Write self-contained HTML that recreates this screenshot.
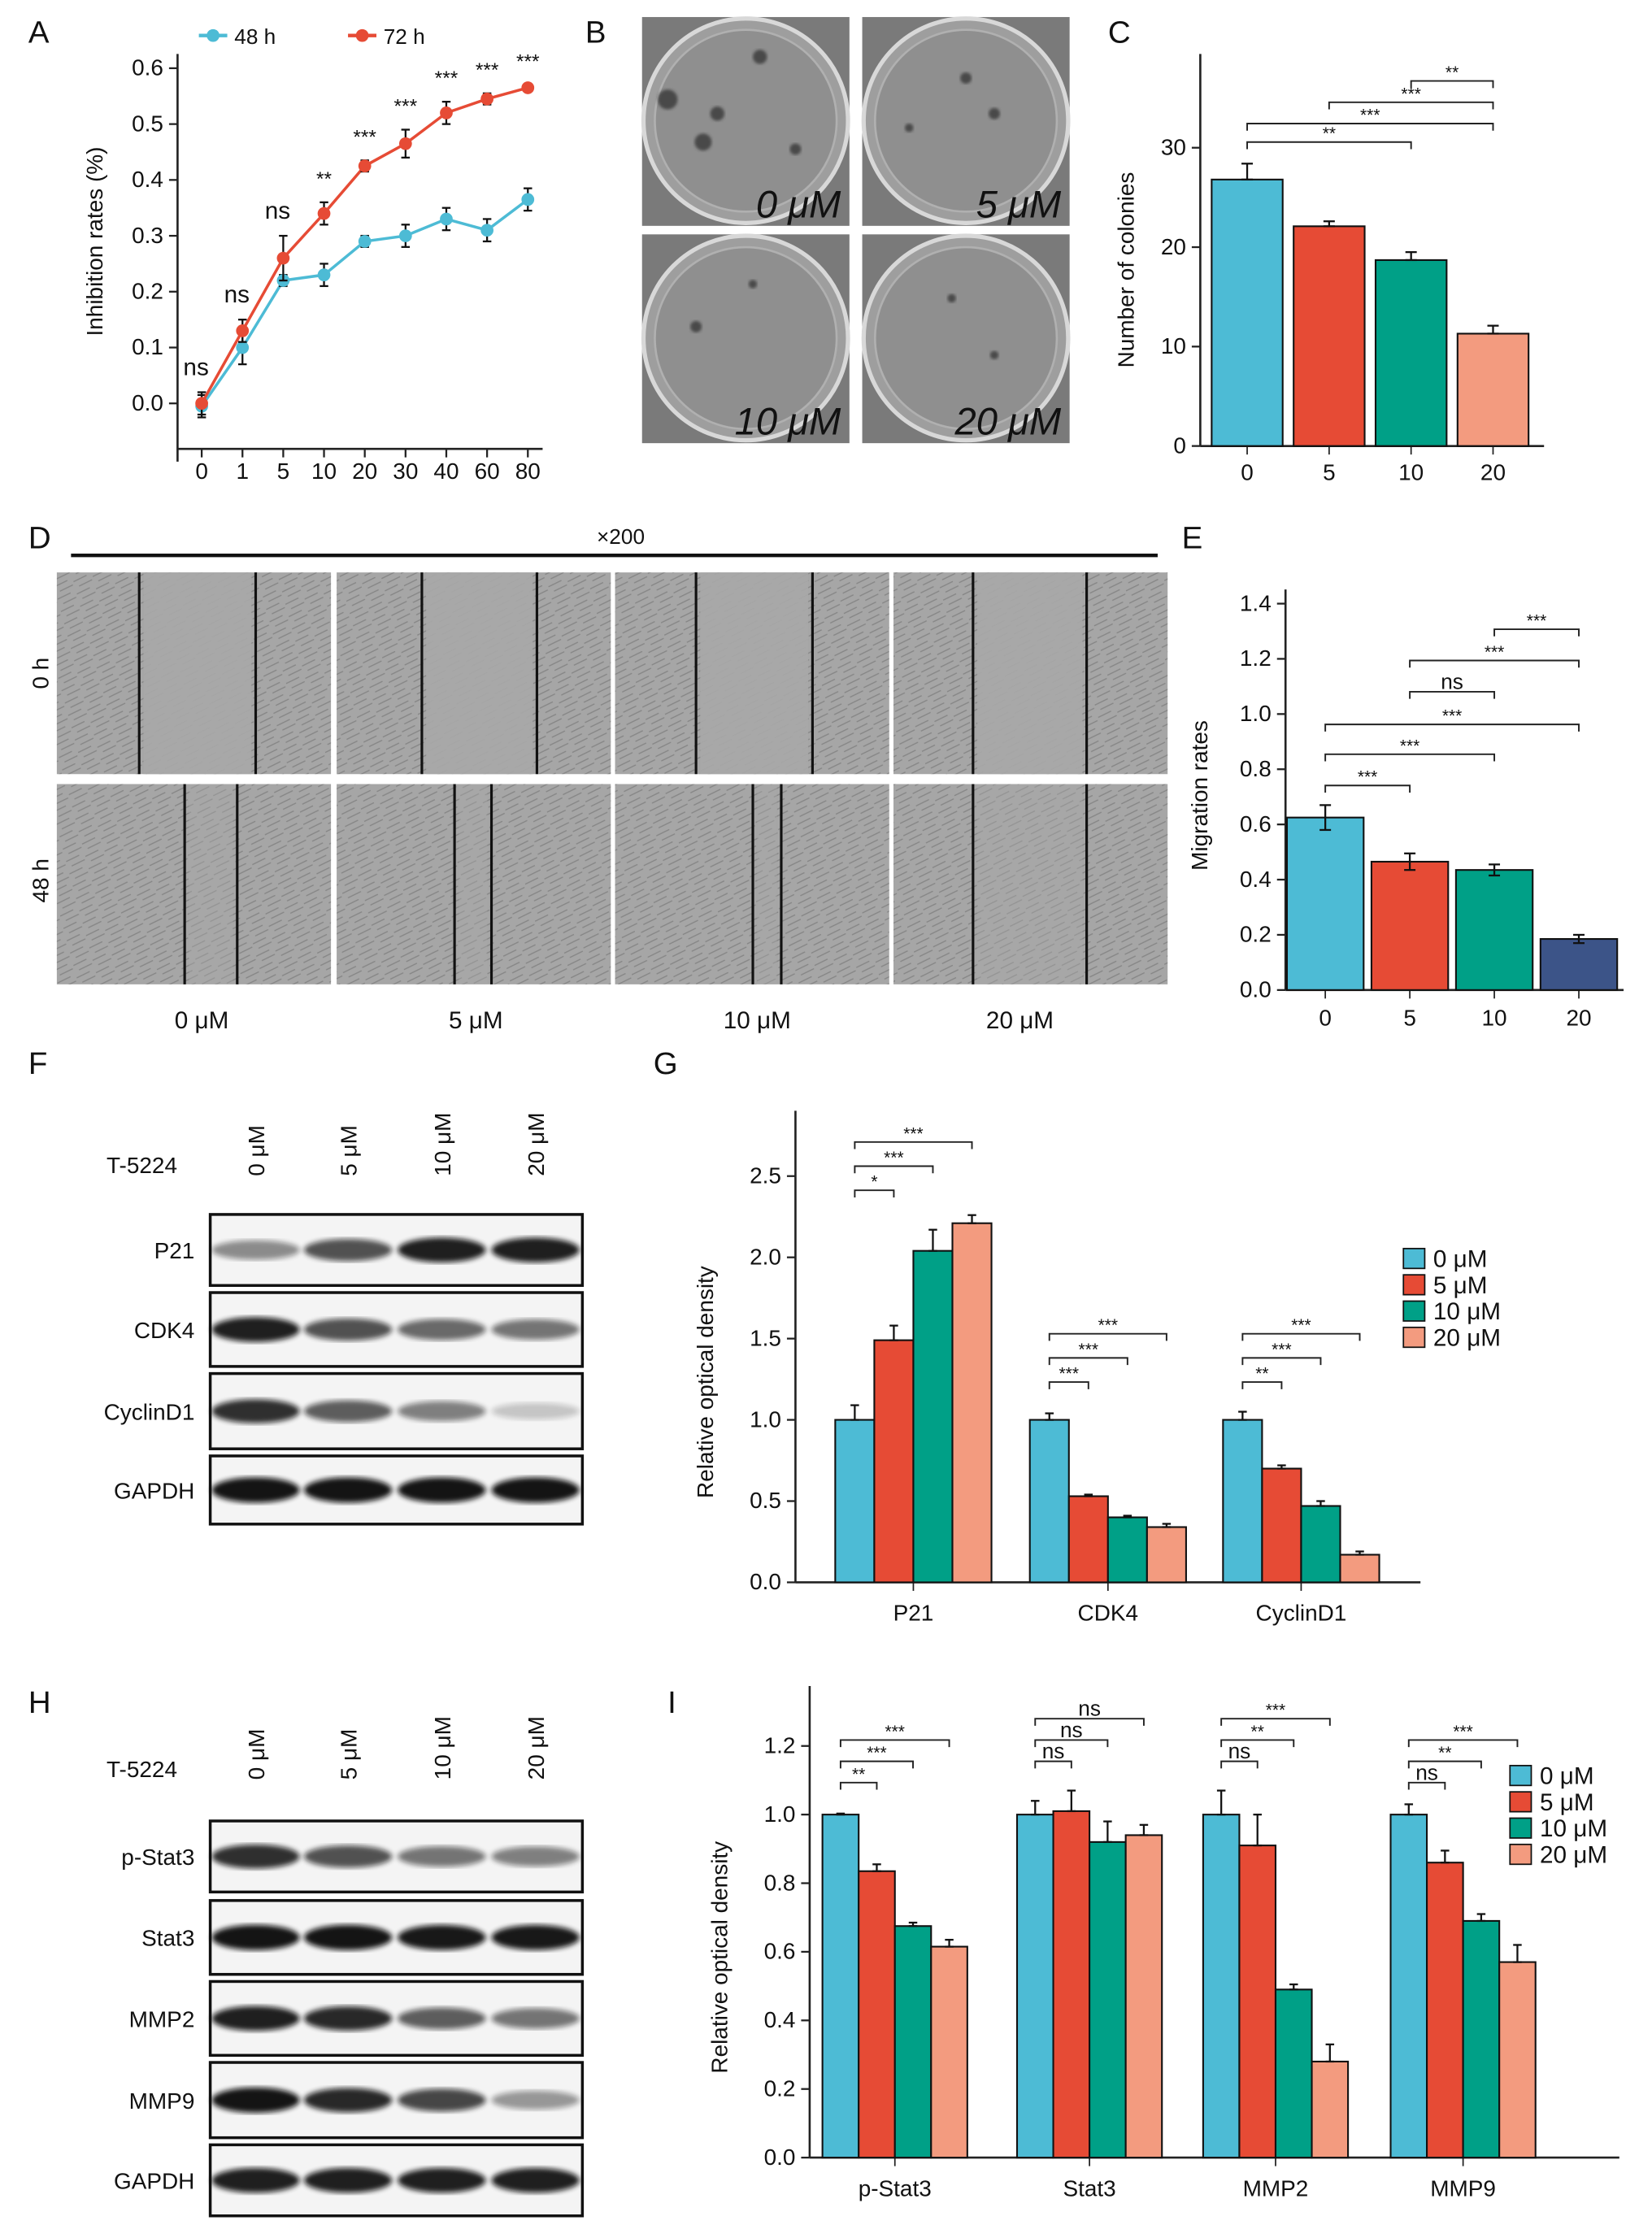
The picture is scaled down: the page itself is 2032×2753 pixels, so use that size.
<!DOCTYPE html>
<html><head><meta charset="utf-8"><style>
html,body{margin:0;padding:0;background:#fff}
svg{display:block}
text{font-family:"Liberation Sans",Arial,sans-serif;fill:#111}
</style></head><body>
<svg id="fig" xmlns="http://www.w3.org/2000/svg" width="2032" height="2753" viewBox="0 0 1163 1575.6" preserveAspectRatio="none">
<defs>
<filter id="blur2"><feGaussianBlur stdDeviation="1.8"/></filter>
<filter id="blur1"><feGaussianBlur stdDeviation="1"/></filter>
<pattern id="cells" width="14" height="9" patternUnits="userSpaceOnUse" patternTransform="rotate(-15)">
<path d="M0 4 L10 2 M3 8 L13 6" stroke="#666" stroke-width="0.8" opacity="0.5"/>
</pattern>
</defs>
</svg>
<script>
const NS='http://www.w3.org/2000/svg';
const svg=document.getElementById('fig');
function el(tag,attrs,parent,txt){const e=document.createElementNS(NS,tag);for(const k in attrs)e.setAttribute(k,attrs[k]);if(txt!==undefined)e.textContent=txt;(parent||svg).appendChild(e);return e;}
const BLUE='#4DBBD5',RED='#E64B35',GREEN='#00A087',SALMON='#F39B7F',NAVY='#3C5488';

// ===== Panel A data =====
const aCats=['0','1','5','10','20','30','40','60','80'];
const a48=[-0.005,0.10,0.22,0.23,0.29,0.30,0.33,0.31,0.365];
const a48err=[0.02,0.03,0.01,0.02,0.01,0.02,0.02,0.02,0.02];
const a72=[0.0,0.13,0.26,0.34,0.425,0.465,0.52,0.545,0.565];
const a72err=[0.02,0.02,0.04,0.02,0.01,0.025,0.02,0.01,0.005];
const aSig=['ns','ns','ns','**','***','***','***','***','***'];
const aTicks=[0,0.1,0.2,0.3,0.4,0.5,0.6];

// ===== Panel C data =====
const cCats=['0','5','10','20'];
const cVals=[26.8,22.1,18.7,11.3];
const cErr=[1.6,0.5,0.8,0.8];
const cTicks=[0,10,20,30];
const cSig=[[0,2,'**'],[0,3,'***'],[1,3,'***'],[2,3,'**']];

// ===== Panel E data =====
const eCats=['0','5','10','20'];
const eVals=[0.625,0.465,0.435,0.185];
const eErr=[0.045,0.03,0.02,0.015];
const eTicks=[0,0.2,0.4,0.6,0.8,1.0,1.2,1.4];
const eSig=[[0,1,'***'],[0,2,'***'],[0,3,'***'],[1,2,'ns'],[1,3,'***'],[2,3,'***']];

// ===== Panel G data =====
const gGroups=['P21','CDK4','CyclinD1'];
const gSeries=['0 μM','5 μM','10 μM','20 μM'];
const gVals=[[1.0,1.49,2.04,2.21],[1.0,0.53,0.40,0.34],[1.0,0.70,0.47,0.17]];
const gErr=[[0.09,0.09,0.13,0.05],[0.04,0.01,0.01,0.02],[0.05,0.02,0.03,0.02]];
const gTicks=[0,0.5,1.0,1.5,2.0,2.5];
const gSig=[['*','***','***'],['***','***','***'],['**','***','***']];

// ===== Panel I data =====
const iGroups=['p-Stat3','Stat3','MMP2','MMP9'];
const iVals=[[1.0,0.835,0.675,0.615],[1.0,1.01,0.92,0.94],[1.0,0.91,0.49,0.28],[1.0,0.86,0.69,0.57]];
const iErr=[[0.003,0.02,0.01,0.02],[0.04,0.06,0.06,0.03],[0.07,0.09,0.015,0.05],[0.03,0.035,0.02,0.05]];
const iTicks=[0,0.2,0.4,0.6,0.8,1.0,1.2];
const iSig=[['**','***','***'],['ns','ns','ns'],['ns','**','***'],['ns','**','***']];

// ===== Blot intensities (0..1 darkness) =====
const fRows=['P21','CDK4','CyclinD1','GAPDH'];
const fInt=[[0.45,0.7,0.92,0.92],[0.92,0.7,0.6,0.55],[0.85,0.65,0.5,0.2],[0.97,0.97,0.97,0.97]];
const hRows=['p-Stat3','Stat3','MMP2','MMP9','GAPDH'];
const hInt=[[0.85,0.7,0.55,0.5],[0.97,0.97,0.95,0.95],[0.92,0.88,0.65,0.55],[0.97,0.88,0.75,0.4],[0.92,0.92,0.92,0.92]];
const doses=['0 μM','5 μM','10 μM','20 μM'];

function label(x,y,t){const e=el('text',{x:x,y:y,'font-size':22},svg,t);}
function yAxis(x,y0,y1,ticks,scale,fs,fmt,name){
  const g=el('g',{});
  el('line',{x1:x,y1:y0,x2:x,y2:y1,stroke:'#222','stroke-width':1.5},g);
  ticks.forEach(t=>{const y=scale(t);el('line',{x1:x-6,y1:y,x2:x,y2:y,stroke:'#222','stroke-width':1.3},g);
    el('text',{x:x-10,y:y+5,'font-size':fs,'text-anchor':'end'},g,fmt(t));});
  return g;}
function yTitle(x,y,t,fs,name){const e=el('text',{x:x,y:y,'font-size':fs,'text-anchor':'middle',transform:`rotate(-90 ${x} ${y})`},svg,t);}
function errbar(g,x,yTop,yBot,w){el('line',{x1:x,y1:yTop,x2:x,y2:yBot,stroke:'#111','stroke-width':1.3},g);
  el('line',{x1:x-w,y1:yTop,x2:x+w,y2:yTop,stroke:'#111','stroke-width':1.3},g);
  el('line',{x1:x-w,y1:yBot,x2:x+w,y2:yBot,stroke:'#111','stroke-width':1.3},g);}
function bracket(g,x1,x2,y,t,fs){el('path',{d:`M${x1} ${y+5}V${y}H${x2}V${y+5}`,fill:'none',stroke:'#222','stroke-width':1.1},g);
  el('text',{x:(x1+x2)/2,y:y-2,'font-size':fs,'text-anchor':'middle'},g,t);}

// ================= Panel A =================
label(20,30,'A');
(function(){
  const y=v=>284-v*393.3, x=i=>142+i*28.7;
  yAxis(125,38,325,aTicks,y,16,t=>t.toFixed(1),'panel-a-y-axis');
  const xg=el('g',{});
  el('line',{x1:125,y1:316,x2:382,y2:316,stroke:'#222','stroke-width':1.5},xg);
  aCats.forEach((c,i)=>{el('line',{x1:x(i),y1:316,x2:x(i),y2:322,stroke:'#222','stroke-width':1.3},xg);el('text',{x:x(i),y:337,'font-size':16,'text-anchor':'middle'},xg,c);});
  yTitle(72,170,'Inhibition rates (%)',16,'panel-a-y-title');
  [[a48,a48err,BLUE,'48h'],[a72,a72err,RED,'72h']].forEach(([v,er,col,nm])=>{
    const g=el('g',{});
    el('polyline',{points:v.map((d,i)=>x(i)+','+y(d)).join(' '),fill:'none',stroke:col,'stroke-width':2},g);
    v.forEach((d,i)=>{errbar(g,x(i),y(d+er[i]),y(d-er[i]),3);el('circle',{cx:x(i),cy:y(d),r:4.5,fill:col},g);});
  });
  const sg=el('g',{});
  aSig.forEach((s,i)=>{const base=Math.max(a72[i]+a72err[i],a48[i]+a48err[i]);el('text',{x:x(i)-(s==='ns'?4:0),y:y(base)-12,'font-size':s==='ns'?17:14,'text-anchor':'middle'},sg,s);});
  const lg=el('g',{});
  [[140,BLUE,'48 h'],[245,RED,'72 h']].forEach(([lx,c,t])=>{el('line',{x1:lx,y1:25,x2:lx+20,y2:25,stroke:c,'stroke-width':2.5},lg);el('circle',{cx:lx+10,cy:25,r:4.5,fill:c},lg);el('text',{x:lx+25,y:31,'font-size':15},lg,t);});
})();

// ================= Panel B =================
label(412,30,'B');
(function(){
  const g=el('g',{});
  const boxes=[[452,12,'0 μM'],[607,12,'5 μM'],[452,165,'10 μM'],[607,165,'20 μM']];
  const spots=[[[470,70,7],[505,80,5],[535,40,5],[495,100,6],[560,105,4]],[[680,55,4],[640,90,3],[700,80,4]],[[490,230,4],[530,200,3]],[[670,210,3],[700,250,3]]];
  boxes.forEach(([bx,by,t],k)=>{
    const p=el('g',{},g);
    el('rect',{x:bx,y:by,width:146,height:147,fill:'#7a7a7a'},p);
    el('circle',{cx:bx+73,cy:by+73,r:72,fill:'#9e9e9e',stroke:'#d8d8d8','stroke-width':3},p);
    el('circle',{cx:bx+73,cy:by+73,r:64,fill:'#8f8f8f',stroke:'#b0b0b0','stroke-width':1.5},p);
    spots[k].forEach(([sx,sy,r])=>el('circle',{cx:sx,cy:sy,r:r,fill:'#333',opacity:0.75,filter:'url(#blur1)'},p));
    el('text',{x:bx+140,y:by+141,'font-size':27,'text-anchor':'end',fill:'#111','font-style':'italic'},p,t);
  });
})();

// ================= Panel C =================
label(780,30,'C');
(function(){
  const y=v=>314-v*7, x=i=>878+i*57.7, cols=[BLUE,RED,GREEN,SALMON];
  yAxis(845,38,314,cTicks,y,16,t=>String(t),'panel-c-y-axis');
  const xg=el('g',{});
  el('line',{x1:845,y1:314,x2:1087,y2:314,stroke:'#222','stroke-width':1.5},xg);
  cCats.forEach((c,i)=>{el('line',{x1:x(i),y1:314,x2:x(i),y2:320,stroke:'#222'},xg);el('text',{x:x(i),y:338,'font-size':16,'text-anchor':'middle'},xg,c);});
  yTitle(798,190,'Number of colonies',16,'panel-c-y-title');
  cVals.forEach((v,i)=>{const g=el('g',{});
    el('rect',{x:x(i)-25,y:y(v),width:50,height:314-y(v),fill:cols[i],stroke:'#111','stroke-width':1.2},g);errbar(g,x(i),y(v+cErr[i]),y(v),4);});
  const sg=el('g',{});
  const ys=[100,87,72,57];cSig.forEach(([a,b,t],k)=>bracket(sg,x(a),x(b),ys[k],t,12));
})();

// ================= Panel D =================
label(20,386,'D');
(function(){
  const g=el('g',{});
  el('line',{x1:50,y1:391,x2:815,y2:391,stroke:'#111','stroke-width':2.5},g);
  el('text',{x:437,y:383,'font-size':15,'text-anchor':'middle'},g,'×200');
  const cols=[40,237,433,629],rows=[[403,142],[552,141]];
  const lines0=[[98,180],[297,378],[490,572],[685,765]],lines48=[[130,167],[320,346],[530,550],[685,765]];
  rows.forEach(([ry,rh],r)=>cols.forEach((cx,c)=>{
    const p=el('g',{},g);
    el('rect',{x:cx,y:ry,width:193,height:rh,fill:'#a6a6a6'},p);
    el('rect',{x:cx,y:ry,width:193,height:rh,fill:'url(#cells)'},p);
    const L=(r?lines48:lines0)[c];
    el('rect',{x:L[0]+3,y:ry,width:L[1]-L[0]-6,height:rh,fill:'#a9a9a9',opacity:r?0.4:0.9},p);
    L.forEach(lx=>el('line',{x1:lx,y1:ry,x2:lx,y2:ry+rh,stroke:'#111','stroke-width':1.8},p));
  }));
  [['0 h',474],['48 h',620]].forEach(([t,yy])=>el('text',{x:34,y:yy,'font-size':16,'text-anchor':'middle',transform:`rotate(-90 34 ${yy})`},g,t));
  [142,335,533,718].forEach((xx,i)=>el('text',{x:xx,y:724,'font-size':17,'text-anchor':'middle','font-family':'Liberation Serif'},g,doses[i]));
})();

// ================= Panel E =================
label(832,386,'E');
(function(){
  const y=v=>697-v*194.3, x=i=>933+i*59.5, cols=[BLUE,RED,GREEN,NAVY];
  yAxis(905,415,697,eTicks,y,16,t=>t.toFixed(1),'panel-e-y-axis');
  const xg=el('g',{});
  el('line',{x1:905,y1:697,x2:1143,y2:697,stroke:'#222','stroke-width':1.5},xg);
  eCats.forEach((c,i)=>{el('line',{x1:x(i),y1:697,x2:x(i),y2:703,stroke:'#222'},xg);el('text',{x:x(i),y:722,'font-size':16,'text-anchor':'middle'},xg,c);});
  yTitle(850,560,'Migration rates',16,'panel-e-y-title');
  eVals.forEach((v,i)=>{const g=el('g',{});
    el('rect',{x:x(i)-27,y:y(v),width:54,height:697-y(v),fill:cols[i],stroke:'#111','stroke-width':1.2},g);errbar(g,x(i),y(v+eErr[i]),y(v-eErr[i]),4);});
  const sg=el('g',{});
  const ys=[553,531,510,487,465,443];eSig.forEach(([a,b,t],k)=>bracket(sg,x(a),x(b),ys[k],t,t==='ns'?15:12));
})();

// ================= Blots =================
function blot(panel,top,rowsY,names,ints,headerY){
  const g=el('g',{});
  el('text',{x:75,y:headerY+8,'font-size':16},g,'T-5224');
  const lanes=[180,245,311,377];
  lanes.forEach((lx,i)=>el('text',{x:lx+6,y:headerY+10,'font-size':16,transform:`rotate(-90 ${lx+6} ${headerY+10})`},g,doses[i]));
  rowsY.forEach(([ry,rh],r)=>{
    const p=el('g',{},g);
    el('rect',{x:148,y:ry,width:262,height:rh,fill:'#f4f4f4',stroke:'#111','stroke-width':2},p);
    lanes.forEach((lx,i)=>{const d=ints[r][i];el('ellipse',{cx:lx,cy:ry+rh/2,rx:31,ry:5+d*4,fill:'#0a0a0a',opacity:d,filter:'url(#blur2)'},p);});
    el('text',{x:137,y:ry+rh/2+6,'font-size':16,'text-anchor':'end'},p,names[r]);
  });
}
label(20,756,'F');
blot('panel-f',0,[[855,50],[910,52],[967,53],[1025,48]],fRows,fInt,818);
label(20,1206,'H');
blot('panel-h',0,[[1282,50],[1338,52],[1395,52],[1452,53],[1510,50]],hRows,hInt,1243);

// ================= Grouped bars =================
function grouped(name,ax,x0,y0,yTop,unit,groups,centers,bw,vals,errs,ticks,sigs,sigY,sigStep,legX,legY,titleX,xEnd){
  const y=v=>y0-v*unit;const cols=[BLUE,RED,GREEN,SALMON];
  yAxis(x0,yTop,y0,ticks,y,16,t=>t.toFixed(1),name+'-y-axis');
  const xg=el('g',{});
  el('line',{x1:x0,y1:y0,x2:xEnd,y2:y0,stroke:'#222','stroke-width':1.5},xg);
  groups.forEach((gname,gi)=>{const cx=centers[gi];el('line',{x1:cx,y1:y0,x2:cx,y2:y0+6,stroke:'#222'},xg);el('text',{x:cx,y:y0+27,'font-size':16,'text-anchor':'middle'},xg,gname);
    const g=el('g',{});
    vals[gi].forEach((v,si)=>{const bx=cx+(si-2)*bw;
      el('rect',{x:bx,y:y(v),width:bw,height:y0-y(v),fill:cols[si],stroke:'#111','stroke-width':1.2},g);
      errbar(g,bx+bw/2,y(v+errs[gi][si]),y(v),3);});
    const sg=el('g',{});
    sigs[gi].forEach((t,k)=>{const x1=cx-1.5*bw,x2=cx+(k-0.5)*bw;bracket(sg,x1,x2,sigY[gi]-k*sigStep,t,t==='ns'?15:12);});
  });
  yTitle(titleX,(yTop+y0)/2+25,'Relative optical density',16,name+'-y-title');
  const lg=el('g',{});
  gSeries.forEach((s,i)=>{const ly=legY+i*18.5;el('rect',{x:legX,y:ly-13,width:15,height:14,fill:cols[i],stroke:'#111','stroke-width':1},lg);el('text',{x:legX+21,y:ly,'font-size':17,'font-family':'Liberation Serif'},lg,s);});
}
label(460,756,'G');
grouped('panel-g',0,560,1114,782,114.4,gGroups,[643,780,916],27.5,gVals,gErr,gTicks,gSig,[838,973,973],17,988,892,502,1000);
label(470,1206,'I');
grouped('panel-i',0,570,1519,1187,241.5,iGroups,[630,767,898,1030],25.5,iVals,iErr,iTicks,iSig,[1255,1240,1240,1255],15,1063,1256,512,1140);
</script>
</body></html>
